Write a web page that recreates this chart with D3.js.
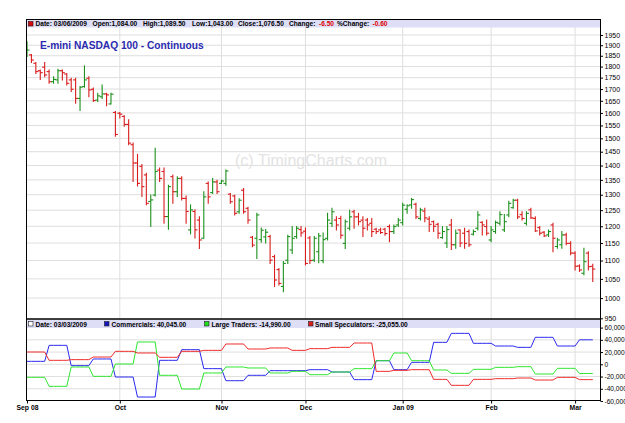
<!DOCTYPE html>
<html>
<head>
<meta charset="utf-8">
<script src="https://cdnjs.cloudflare.com/ajax/libs/d3/7.8.5/d3.min.js"></script>
<style>
  body { margin: 0; background: #fff; }
  svg { display: block; font-family: "Liberation Sans", Arial, sans-serif; }
</style>
</head>
<body>
<div id="chart"></div>
<script>
// trading calendar: weekdays Sep 2 2008 - Mar 6 2009 minus exchange holidays
const holidays = ["2008-11-27", "2008-12-25", "2009-01-01", "2009-01-19", "2009-02-16"];

// daily OHLC, E-mini NASDAQ 100 continuous
const opens = [1849,1854,1815,1781,1797,1777,1732,1740,1781,1766,1740,1740,1660,1711,1747,1699,1653,1667,1679,1637,1602,
  1599,1586,1554,1476,1409,1397,1367,1278,1299,1384,1379,1230,1361,1310,1355,1288,1189,1246,1219,1164,1338,1307,1343,
  1338,1338,1302,1296,1245,1315,1256,1167,1164,1160,1168,1169,1111,1075,1030,1101,1130,1169,1190,
  1185,1165,1101,1125,1100,1164,1209,1219,1224,1149,1194,1245,1229,1219,1219,1209,1191,1189,1191,1199,1184,1204,
  1211,1253,1267,1269,1224,1247,1222,1214,1206,1166,1150,1204,1145,1189,1179,1184,1176,1194,1212,1199,
  1159,1184,1209,1189,1235,1258,1282,1236,1209,1251,1224,1196,1182,1174,1204,1140,1145,1174,1149,
  1121,1085,1065,1121,1084];
const highs = [1917,1856,1818,1784,1818,1784,1754,1788,1784,1769,1747,1747,1711,1803,1754,1704,1682,1718,1682,1682,1606,
  1602,1589,1573,1482,1440,1404,1373,1299,1463,1391,1391,1332,1367,1361,1361,1296,1267,1251,1229,1310,1343,1355,1349,
  1349,1384,1304,1298,1287,1321,1259,1169,1240,1195,1190,1173,1115,1078,1097,1173,1199,1199,1199,
  1195,1169,1169,1178,1180,1240,1256,1229,1231,1219,1250,1250,1240,1229,1224,1224,1194,1194,1194,1204,1204,1224,
  1272,1267,1288,1272,1256,1256,1229,1216,1209,1199,1199,1221,1189,1189,1194,1189,1189,1245,1214,1219,
  1199,1216,1245,1236,1279,1285,1285,1245,1245,1256,1229,1199,1184,1189,1209,1164,1184,1179,1154,
  1125,1088,1135,1125,1089.5];
const lows = [1846,1819,1769,1742,1754,1725,1725,1725,1740,1718,1689,1640,1610,1708,1667,1647,1647,1660,1629,1637,1508,
  1580,1547,1476,1344,1329,1294,1267,1199,1296,1344,1209,1191,1272,1294,1283,1209,1177,1165,1134,1164,1272,1304,1304,
  1338,1332,1272,1235,1240,1240,1209,1139,1106,1152,1150,1092,1030,1034,1016,1092,1120,1164,1170,
  1088,1092,1097,1094,1094,1159,1199,1189,1164,1134,1189,1194,1204,1169,1189,1169,1178,1178,1173,1154,1178,1199,
  1204,1240,1256,1224,1219,1214,1184,1184,1164,1164,1137,1131,1135,1140,1135,1140,1174,1189,1174,1174,
  1154,1179,1204,1184,1229,1256,1224,1219,1204,1224,1184,1174,1169,1169,1125,1135,1135,1145,1116,
  1074,1070,1061,1074,1043];
const closes = [1877,1830,1777,1772,1762,1732,1742,1781,1772,1725,1699,1660,1708,1740,1696,1651,1671,1679,1675,1678,1515,
  1595,1554,1482,1409,1338,1327,1272,1283,1379,1355,1230,1327,1310,1355,1288,1246,1251,1189,1159,1293,1293,1343,1310,
  1346,1381,1277,1240,1282,1245,1219,1144,1235,1188,1182,1101,1047,1038,1092,1169,1164,1194,1180,
  1092,1100,1164,1171,1160,1219,1245,1204,1173,1214,1229,1229,1214,1194,1204,1184,1184,1181,1178,1184,1199,1219,
  1266,1264,1284,1229,1251,1226,1206,1200,1179,1184,1190,1145,1179,1150,1149,1145,1184,1235,1204,1179,
  1189,1212,1236,1214,1272,1282,1229,1224,1240,1226,1186,1179,1171,1184,1164,1159,1174,1149,1121,
  1084,1074,1097,1083,1076.5];

// weekly Commitments of Traders, held until the next report
const cotDates = ["2008-09-02","2008-09-09","2008-09-16","2008-09-23","2008-09-30","2008-10-07","2008-10-14","2008-10-21",
  "2008-10-28","2008-11-04","2008-11-11","2008-11-18","2008-11-25","2008-12-02","2008-12-09","2008-12-16","2008-12-23",
  "2008-12-30","2009-01-06","2009-01-13","2009-01-20","2009-01-27","2009-02-03","2009-02-10","2009-02-17","2009-02-24",
  "2009-03-03"];
const commercials = [4850,31000,-2200,8700,-20800,-53500,6500,23900,-7100,-26800,-18000,-10400,-10400,-8800,-12600,
  -25100,5900,-8800,3200,35900,50600,34300,29900,27700,44100,29900,40045];
const largeTraders = [-21300,-36000,-4400,-19700,500,36500,-18000,-40400,-14200,-4400,-6000,-14200,-11500,-17000,-12600,
  -7100,5900,18500,5900,-9300,-14800,-8200,-5000,-3900,-15900,-6600,-14990];
const smallSpecs = [20100,6500,7600,11900,21200,18500,11400,21200,22800,33200,25000,26700,22800,25600,27700,
  34800,-11500,-9900,-8800,-24600,-34400,-24600,-23500,-22400,-25700,-21300,-25055];

const priceTicks = [950,1000,1050,1100,1150,1200,1250,1300,1350,1400,1450,1500,1550,1600,1650,1700,1750,1800,1850,1900,1950];
const cotTicks = [60000,40000,20000,0,-20000,-40000,-60000];
const monthStarts = ["2008-09-02","2008-10-01","2008-11-03","2008-12-01","2009-01-02","2009-02-02","2009-03-02"];
const monthLabels = ["Sep 08","Oct","Nov","Dec","Jan 09","Feb","Mar"];

const W = 625, H = 423;
const plotL = 26, plotR = 600, plotT = 19, plotMid = 319, plotB = 400;
const upColor = "#1c901c", downColor = "#d81c1c";

const fmtDay = d3.utcFormat("%Y-%m-%d");
const tradingDays = d3.utcDay.range(new Date(Date.UTC(2008, 8, 2)), new Date(Date.UTC(2009, 2, 7)))
  .filter(d => d.getUTCDay() % 6 !== 0)
  .map(fmtDay)
  .filter(s => !holidays.includes(s));

const svg = d3.select("#chart").append("svg")
    .attr("width", W)
    .attr("height", H);

svg.append("rect").attr("width", W).attr("height", H).attr("fill", "#fff");

const defs = svg.append("defs");
defs.append("clipPath").attr("id", "clipMain")
  .append("rect").attr("x", plotL).attr("y", plotT).attr("width", plotR - plotL).attr("height", plotMid - plotT);
defs.append("clipPath").attr("id", "clipCot")
  .append("rect").attr("x", plotL).attr("y", plotMid).attr("width", plotR - plotL).attr("height", plotB - plotMid);

// Scales
const x = d3.scalePoint()
    .domain(tradingDays)
    .range([27, 27 + 4.42 * (tradingDays.length - 1)]);

const y = d3.scaleLog()
    .domain([950, 1950])
    .range([318.3, 35]);

const yCot = d3.scaleLinear()
    .domain([-60000, 60000])
    .range([401, 327.6]);

// Grid
const grid = svg.append("g").attr("stroke", "#dedede").attr("stroke-width", 1);
grid.selectAll("line.hp")
  .data(priceTicks.filter(t => t > 950))
  .join("line")
    .attr("class", "hp")
    .attr("x1", plotL).attr("x2", plotR)
    .attr("y1", d => y(d)).attr("y2", d => y(d));
grid.selectAll("line.hc")
  .data(cotTicks.filter(t => Math.abs(t) < 60000))
  .join("line")
    .attr("class", "hc")
    .attr("x1", plotL).attr("x2", plotR)
    .attr("y1", d => yCot(d)).attr("y2", d => yCot(d));
grid.selectAll("line.v")
  .data(monthStarts.slice(1))
  .join("line")
    .attr("class", "v")
    .attr("x1", d => x(d)).attr("x2", d => x(d))
    .attr("y1", plotT).attr("y2", plotB);

// Watermark and title
svg.append("text")
    .attr("x", 311).attr("y", 166)
    .attr("text-anchor", "middle")
    .attr("font-size", 16)
    .attr("fill", "#e3e3e3")
    .text("(c) TimingCharts.com");

svg.append("text")
    .attr("x", 40).attr("y", 48.5)
    .attr("font-size", 10.2)
    .attr("font-weight", "bold")
    .attr("fill", "#2b2bb0")
    .text("E-mini NASDAQ 100 - Continuous");

// OHLC bars
const bars = tradingDays.map((d, i) => ({d, o: opens[i], h: highs[i], l: lows[i], c: closes[i]}));
const barG = svg.append("g").attr("clip-path", "url(#clipMain)")
  .selectAll("g")
  .data(bars)
  .join("g")
    .attr("stroke", d => d.c >= d.o ? upColor : downColor)
    .attr("stroke-width", 1.1);
barG.append("line")
    .attr("x1", d => x(d.d)).attr("x2", d => x(d.d))
    .attr("y1", d => y(d.h) - 0.5).attr("y2", d => y(d.l) + 0.5);
barG.append("line")
    .attr("x1", d => x(d.d) - 2.5).attr("x2", d => x(d.d))
    .attr("y1", d => y(d.o)).attr("y2", d => y(d.o));
barG.append("line")
    .attr("x1", d => x(d.d)).attr("x2", d => x(d.d) + 2.5)
    .attr("y1", d => y(d.c)).attr("y2", d => y(d.c));

// COT lines (daily value = latest weekly report)
const reportIdx = cotDates.map(d => tradingDays.indexOf(d));
function daily(values) {
  return tradingDays.map((d, i) => {
    let k = 0;
    while (k + 1 < reportIdx.length && reportIdx[k + 1] <= i) k++;
    return {d, v: values[k]};
  });
}
const cotSeries = [
  {name: "Commercials", values: commercials, color: "#2a2aee", key: "#1414c0"},
  {name: "Large Traders", values: largeTraders, color: "#2ee62e", key: "#22dd22"},
  {name: "Small Speculators", values: smallSpecs, color: "#f02a2a", key: "#dd1c1c"}
];
const line = d3.line().x(p => x(p.d)).y(p => yCot(p.v));
svg.append("g").attr("clip-path", "url(#clipCot)")
  .selectAll("path")
  .data(cotSeries)
  .join("path")
    .attr("fill", "none")
    .attr("stroke", s => s.color)
    .attr("stroke-width", 1)
    .attr("d", s => line(daily(s.values)));

// Header strips
svg.append("rect").attr("x", plotL).attr("y", plotT + 0.5).attr("width", plotR - plotL).attr("height", 8).attr("fill", "#dedef7");
svg.append("rect").attr("x", plotL).attr("y", plotMid + 0.5).attr("width", plotR - plotL).attr("height", 8.5).attr("fill", "#dedef7");

const hdr = svg.append("g").attr("font-size", 6.6).attr("font-weight", "bold").attr("fill", "#000");
hdr.append("rect").attr("x", 28.5).attr("y", 21.5).attr("width", 4.5).attr("height", 4.5)
    .attr("fill", "#d01010").attr("stroke", "#400").attr("stroke-width", 0.6);
const last = bars[bars.length - 1], prev = bars[bars.length - 2];
const f2 = d3.format(",.2f");
const chg = last.c - prev.c;
const priceHdr = [
  {x: 35.5, t: "Date: " + d3.utcFormat("%m/%d/%Y")(new Date(last.d))},
  {x: 92.5, t: "Open:" + f2(last.o)},
  {x: 143, t: "High:" + f2(last.h)},
  {x: 192, t: "Low:" + f2(last.l)},
  {x: 238, t: "Close:" + f2(last.c)},
  {x: 289, t: "Change:"},
  {x: 319, t: f2(chg).replace("−", "-"), red: true},
  {x: 337, t: "%Change:"},
  {x: 372.5, t: f2(chg / prev.c * 100).replace("−", "-"), red: true}
];
hdr.selectAll("text.p").data(priceHdr).join("text")
    .attr("class", "p")
    .attr("x", d => d.x).attr("y", 26.2)
    .attr("fill", d => d.red ? "#e00000" : "#000")
    .text(d => d.t);

const lastCot = cotDates.length - 1;
const cotHdr = [
  {x: 35.5, sq: 28.5, key: "#fff", t: "Date: " + d3.utcFormat("%m/%d/%Y")(new Date(cotDates[lastCot]))},
  ...cotSeries.map((s, i) => ({
    x: [111.5, 211.5, 315][i], sq: [104.5, 204.5, 308.5][i], key: s.key,
    t: s.name + ": " + f2(s.values[lastCot]).replace("−", "-")
  }))
];
hdr.selectAll("rect.c").data(cotHdr).join("rect")
    .attr("class", "c")
    .attr("x", d => d.sq).attr("y", 321.5).attr("width", 4.5).attr("height", 4.5)
    .attr("fill", d => d.key).attr("stroke", "#222").attr("stroke-width", 0.6);
hdr.selectAll("text.c").data(cotHdr).join("text")
    .attr("class", "c")
    .attr("x", d => d.x).attr("y", 326.6)
    .text(d => d.t);

// Frame
const frame = svg.append("g").attr("stroke", "#000").attr("fill", "none");
frame.append("line").attr("x1", plotL).attr("x2", plotR).attr("y1", plotT + 0.5).attr("y2", plotT + 0.5);
frame.append("line").attr("x1", plotL).attr("x2", plotR).attr("y1", plotMid).attr("y2", plotMid).attr("stroke-width", 1.6);
frame.append("line").attr("x1", plotL).attr("x2", plotR).attr("y1", plotB + 0.5).attr("y2", plotB + 0.5);
frame.append("line").attr("x1", plotL + 0.5).attr("x2", plotL + 0.5).attr("y1", plotT).attr("y2", plotB + 1);
frame.append("line").attr("x1", plotR + 0.5).attr("x2", plotR + 0.5).attr("y1", plotT).attr("y2", plotB + 1);

// Right axes
const axP = svg.append("g").attr("transform", `translate(${plotR + 0.5},0)`)
    .call(d3.axisRight(y).tickValues(priceTicks).tickSize(2.5).tickPadding(1.5).tickFormat(d3.format("d")));
const axC = svg.append("g").attr("transform", `translate(${plotR + 0.5},0)`)
    .call(d3.axisRight(yCot).tickValues(cotTicks).tickSize(2.5).tickPadding(1.5)
      .tickFormat(v => v.toLocaleString("en-US")));
[axP, axC].forEach(a => {
  a.select(".domain").remove();
  a.selectAll("text").attr("font-family", "Liberation Sans, Arial, sans-serif").attr("fill", "#000");
});
axP.selectAll("text").attr("font-size", 7);
axC.selectAll("text").attr("font-size", 6.6);

// Bottom date axis
const axX = svg.append("g").attr("transform", `translate(0,${plotB + 0.5})`)
    .call(d3.axisBottom(x).tickValues(monthStarts).tickSize(3).tickPadding(1.5)
      .tickFormat((d, i) => monthLabels[i]));
axX.select(".domain").remove();
axX.selectAll("text").attr("font-size", 6.8).attr("font-weight", "bold")
    .attr("font-family", "Liberation Sans, Arial, sans-serif").attr("fill", "#000");
</script>
</body>
</html>
